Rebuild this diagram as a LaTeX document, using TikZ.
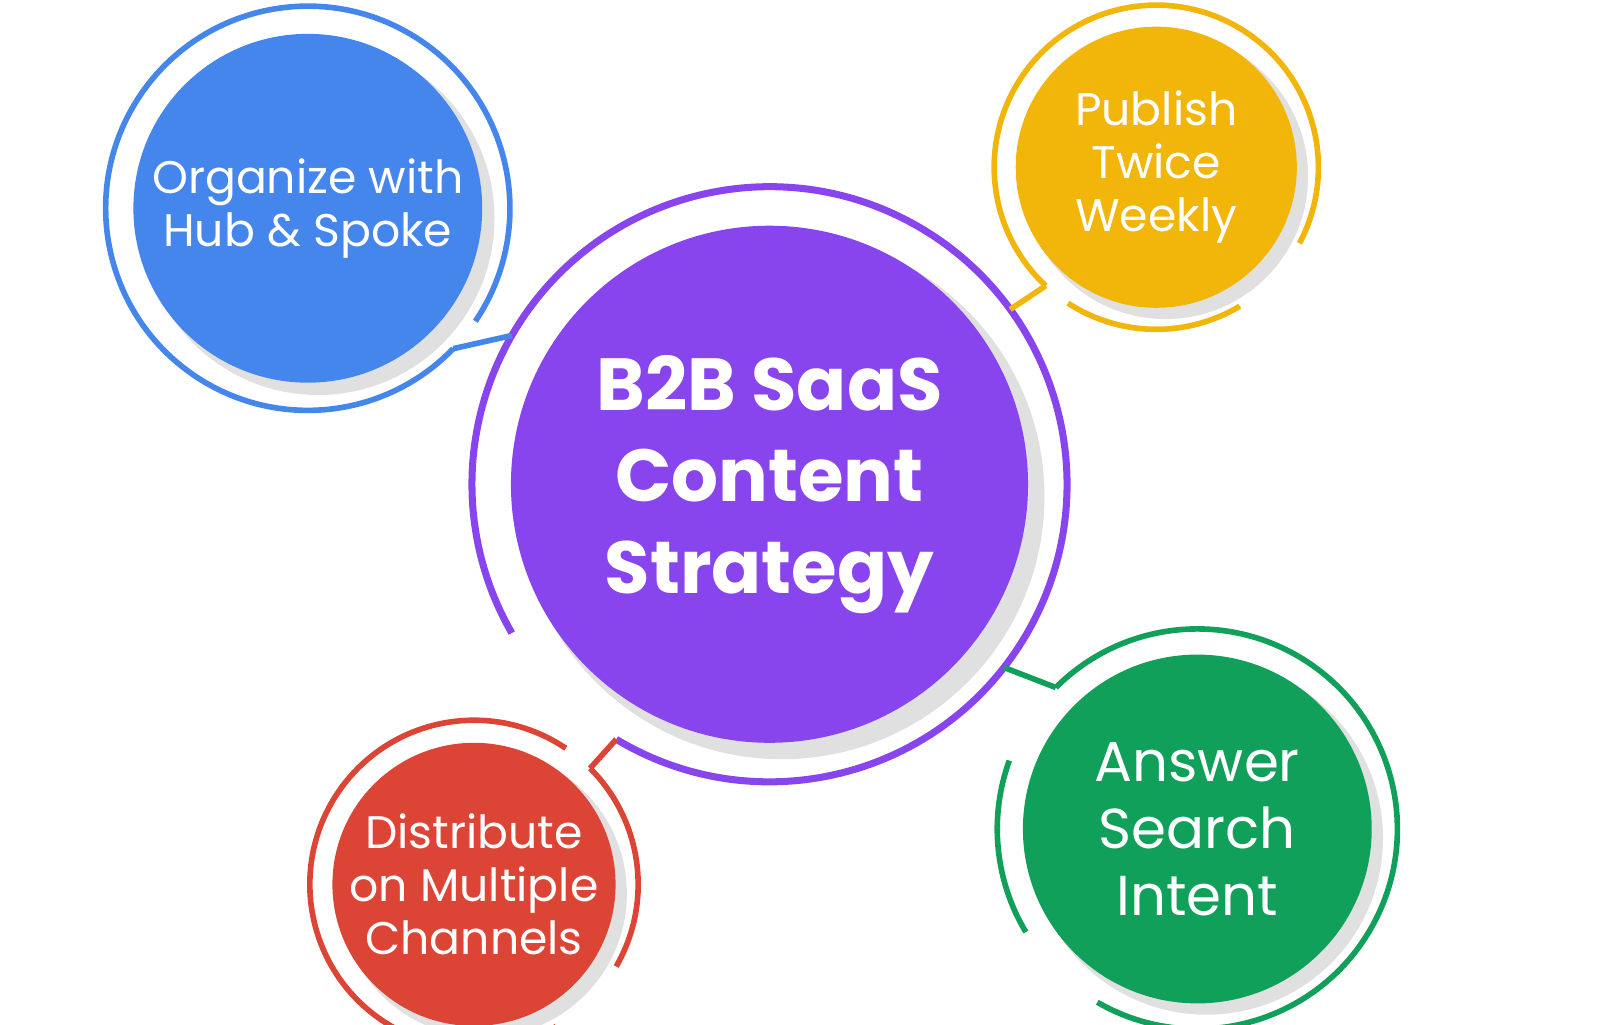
\documentclass[tikz,border=0pt]{standalone}
\usepackage{fontspec}
\setmainfont{Poppins}
\definecolor{cblue}{HTML}{4486EC}
\definecolor{cyel}{HTML}{F2B50A}
\definecolor{cpur}{HTML}{8845EE}
\definecolor{cgrn}{HTML}{11A05A}
\definecolor{cred}{HTML}{DC4436}
\tikzset{
 ring/.style={line width=1.6pt},
 disc/.style={circle,inner sep=0pt,align=center,text=white},
 conn/.style={line width=1.6pt}
}
\begin{document}
\begin{tikzpicture}[x=0.01026cm,y=0.01026cm]
\useasboundingbox (0,0) rectangle (1559.5,999);
% purple
\coordinate (P) at (750,527);
\fill[black!12] (762,515) circle[radius=256];
\fill[cpur] (P) circle[radius=252];
\node[disc,font=\fontsize{21}{26}\selectfont\bfseries] (pc) at (P) {B2B SaaS\\Content\\Strategy};
\draw[ring,cpur,line width=2pt] ([shift={(-121:290)}]P) arc[start angle=-121,end angle=210,radius=290];
% blue
\coordinate (B) at (300,796);
\fill[black!12] (310,786) circle[radius=172];
\fill[cblue] (B) circle[radius=170];
\node[disc,font=\fontsize{13}{15}\selectfont] (bc) at (B) {Organize with\\Hub \& Spoke};
\draw[ring,cblue] ([shift={(-34:197)}]B) arc[start angle=-34,end angle=316,radius=197];
\coordinate (b1) at ([shift={(-44:197)}]B);
\coordinate (p1) at ([shift={(150:290)}]P);
\draw[conn,cblue] (b1) -- (p1);
% yellow
\coordinate (Y) at (1127,836);
\fill[black!12] (1136,827) circle[radius=139];
\fill[cyel] (Y) circle[radius=137];
\node[disc,font=\fontsize{13}{15}\selectfont] (yc) at (Y) {Publish\\Twice\\Weekly};
\draw[ring,cyel] ([shift={(-28:158)}]Y) arc[start angle=-28,end angle=227,radius=158];
\draw[ring,cyel] ([shift={(-123:158)}]Y) arc[start angle=-123,end angle=-59,radius=158];
\coordinate (y1) at ([shift={(227:158)}]Y);
\coordinate (p2) at ([shift={(36:290)}]P);
\draw[conn,cyel] (y1) -- (p2);
% green
\coordinate (G) at (1167,191);
\fill[black!12] (1176,182) circle[radius=172];
\fill[cgrn] (G) circle[radius=170];
\node[disc,font=\fontsize{16}{19}\selectfont] (gc) at (G) {Answer\\Search\\Intent};
\draw[ring,cgrn] ([shift={(-120:195)}]G) arc[start angle=-120,end angle=135,radius=195];
\draw[ring,cgrn] ([shift={(160:195)}]G) arc[start angle=160,end angle=211,radius=195];
\coordinate (g1) at ([shift={(135:195)}]G);
\coordinate (p3) at ([shift={(-38:290)}]P);
\draw[conn,cgrn] (g1) -- (p3);
% red
\coordinate (R) at (462,137);
\fill[black!12] (471,128) circle[radius=140];
\fill[cred] (R) circle[radius=138];
\node[disc,font=\fontsize{13}{15}\selectfont] (rc) at (R) {Distribute\\on Multiple\\Channels};
\draw[ring,cred] ([shift={(-30:160)}]R) arc[start angle=-30,end angle=45,radius=160];
\draw[ring,cred] ([shift={(56:160)}]R) arc[start angle=56,end angle=300,radius=160];
\coordinate (r1) at ([shift={(45:160)}]R);
\coordinate (p4) at ([shift={(-121:290)}]P);
\draw[conn,cred] (r1) -- (p4);
\end{tikzpicture}
\end{document}
